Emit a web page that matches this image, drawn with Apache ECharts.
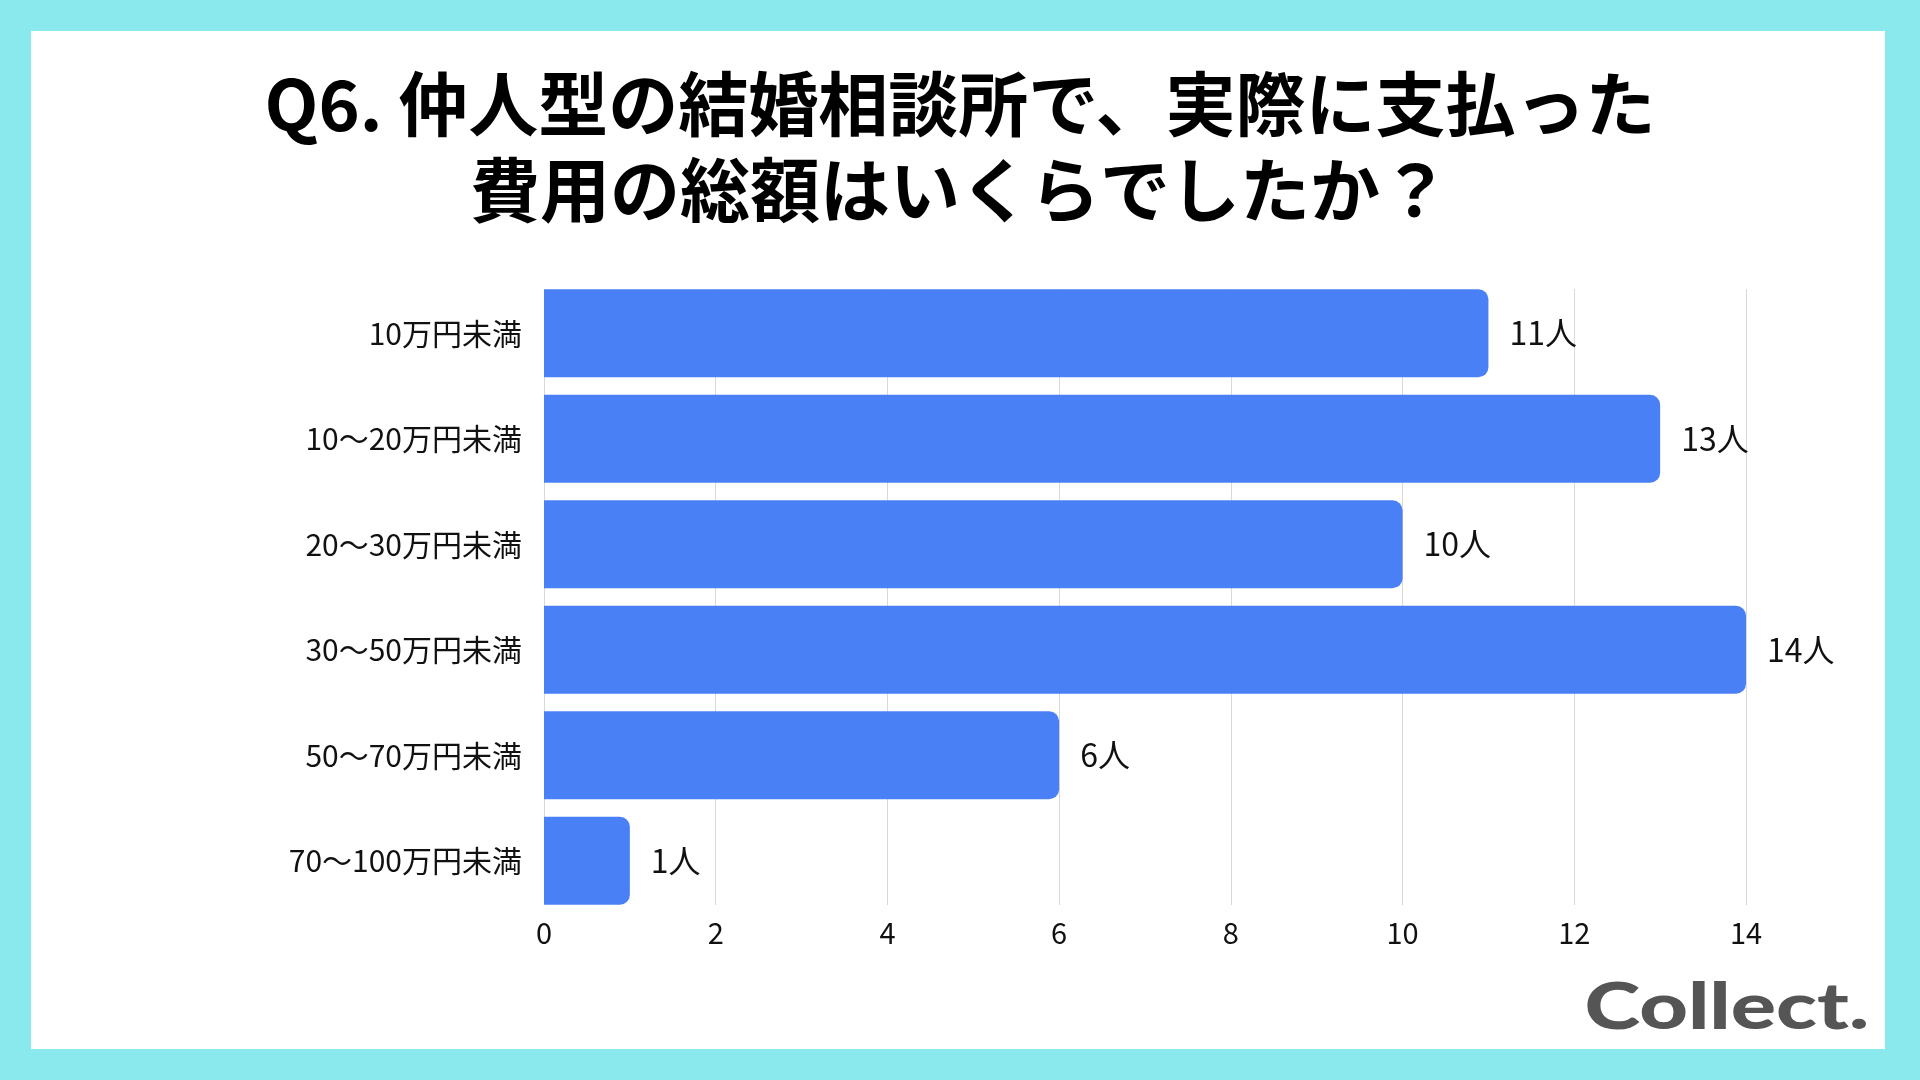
<!DOCTYPE html>
<html>
<head>
<meta charset="utf-8">
<script src="https://cdn.jsdelivr.net/npm/echarts@6/dist/echarts.min.js"></script>
<style>
  html, body { margin: 0; padding: 0; background: #8ae9ec; }
  #chart { width: 1920px; height: 1080px; }
</style>
</head>
<body>
<div id="chart"></div>
<script>
// 回答の区分
var categories = [
  "10万円未満",
  "10～20万円未満",
  "20～30万円未満",
  "30～50万円未満",
  "50～70万円未満",
  "70～100万円未満",
];
// 人数
var counts = [11, 13, 10, 14, 6, 1];
// 横軸の目盛り
var axisMin = 0;
var axisMax = 14;
var axisStep = 2;

var titleText = "Q6. 仲人型の結婚相談所で、実際に支払った\n費用の総額はいくらでしたか？";
var barColor = "#4a80f5";
var font = "Noto Sans CJK JP";

var chart = echarts.init(document.getElementById("chart"));

var option = {
  backgroundColor: "#8ae9ec",
  textStyle: { fontFamily: font },
  animation: false,
  title: {
    text: titleText,
    left: "center",
    top: 56,
    textStyle: {
      fontFamily: font,
      fontSize: 70,
      fontWeight: "bold",
      lineHeight: 86,
      color: "#000",
    },
  },
  // 白い台紙とロゴ
  graphic: [
    {
      type: "rect",
      z: -10,
      shape: { x: 31, y: 31, width: 1854, height: 1018 },
      style: { fill: "#fff" },
    },
    {
      type: "text",
      x: 1869,
      y: 1008,
      scaleX: 1.32,
      originX: 0,
      originY: 0,
      style: {
        text: "Collect.",
        fill: "#555",
        font: "900 64px Lato",
        textAlign: "right",
        textVerticalAlign: "middle",
      },
    },
  ],
  grid: [
    // 目盛り線用（棒の上端から下端まで）
    { left: 544, right: 174, top: 289, bottom: 175 },
    // 棒用
    { left: 544, right: 174, top: 280.5, bottom: 166.5 },
  ],
  xAxis: [
    {
      gridIndex: 0,
      type: "value",
      min: axisMin,
      max: axisMax,
      interval: axisStep,
      axisLine: { show: false },
      axisTick: { show: false },
      splitLine: { show: true, lineStyle: { color: "#d9d9d9", width: 1 } },
      axisLabel: { fontSize: 29, color: "#111", margin: 13 },
    },
    {
      gridIndex: 1,
      type: "value",
      min: axisMin,
      max: axisMax,
      show: false,
    },
  ],
  yAxis: [
    {
      gridIndex: 0,
      type: "category",
      data: categories,
      show: false,
    },
    {
      gridIndex: 1,
      type: "category",
      data: categories,
      inverse: true,
      axisLine: { show: false },
      axisTick: { show: false },
      axisLabel: { fontSize: 30, color: "#111", margin: 22 },
    },
  ],
  series: [
    {
      type: "bar",
      xAxisIndex: 1,
      yAxisIndex: 1,
      data: counts,
      barWidth: 88,
      itemStyle: { color: barColor, borderRadius: [0, 10, 10, 0] },
      label: {
        show: true,
        position: "right",
        distance: 21,
        formatter: "{c}人",
        fontSize: 32,
        color: "#111",
      },
    },
  ],
};

chart.setOption(option);
</script>
</body>
</html>
